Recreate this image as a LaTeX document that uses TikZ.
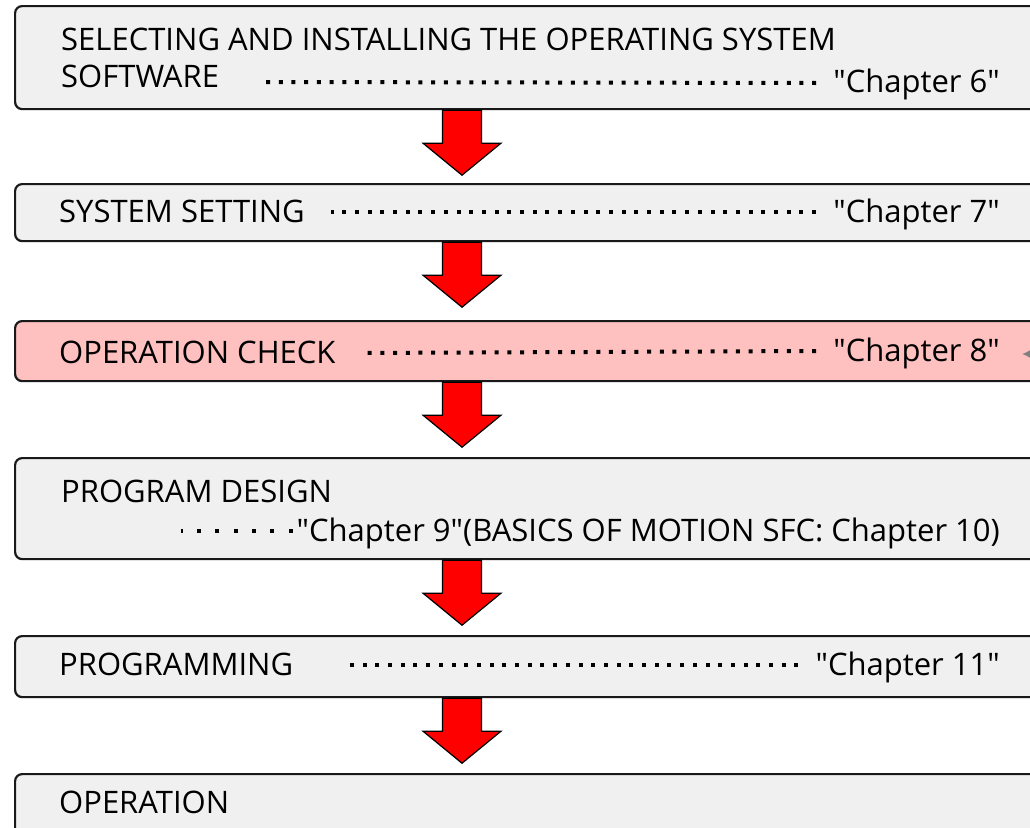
\documentclass[tikz,border=0pt]{standalone}
\usepackage{fontspec}
\setmainfont{Open Sans}[Ligatures=TeXOff]
\usetikzlibrary{calc,arrows.meta}
\definecolor{boxgray}{RGB}{240,240,240}
\definecolor{checkpink}{RGB}{255,192,192}
\newcommand\qt{{\char34}}

\begin{document}
\begin{tikzpicture}[x=1pt,y=-1pt,
  every node/.style={inner sep=0pt,font=\fontsize{31}{38}\selectfont},
  stepbox/.style={draw=black!90,line width=2.2pt,rounded corners=7pt,fill=boxgray,
    minimum width=1060pt,anchor=north west},
  leader/.style={line width=4pt,dash pattern=on 4pt off 8.7pt},
  flowarrow/.style={fill=red,draw=black,line width=1.2pt,line join=miter}]
  \useasboundingbox (0,0) rectangle (1030,827);
  \clip (0,0) rectangle (1030,827);
  \coordinate (ax) at (462,0);

  \node[stepbox,minimum height=103pt] (b1) at (14,5) {};
  \node[stepbox,minimum height=57pt] (b2) at (14,183) {};
  \node[stepbox,minimum height=60pt,fill=checkpink] (b3) at (14,320) {};
  \node[stepbox,minimum height=101pt] (b4) at (14,457) {};
  \node[stepbox,minimum height=61pt] (b5) at (14,635) {};
  \node[stepbox,minimum height=100pt] (b6) at (14,773) {};

  \node[anchor=base west] (l1a) at ($(b1.north west)+(47,45)$) {SELECTING AND INSTALLING THE OPERATING SYSTEM};
  \node[anchor=base west] (l1b) at ($(b1.north west)+(47,82)$) {SOFTWARE};
  \node[anchor=base east] (c1) at ($(b1.north west)+(986,87)$) {\qt Chapter 6\qt};
  \node[anchor=base west] (l2) at ($(b2.north west)+(45,39)$) {SYSTEM SETTING};
  \node[anchor=base east] (c2) at ($(b2.north west)+(986,39)$) {\qt Chapter 7\qt};
  \node[anchor=base west] (l3) at ($(b3.north west)+(45,43)$) {OPERATION CHECK};
  \node[anchor=base east] (c3) at ($(b3.north west)+(986,41)$) {\qt Chapter 8\qt};
  \node[anchor=base west] (l4) at ($(b4.north west)+(47,45)$) {PROGRAM DESIGN};
  \node[anchor=base east] (c4) at ($(b4.north west)+(986,84)$) {\qt Chapter 9\qt(BASICS OF MOTION SFC: Chapter 10)};
  \node[anchor=base west] (l5) at ($(b5.north west)+(45,40)$) {PROGRAMMING};
  \node[anchor=base east] (c5) at ($(b5.north west)+(986,40)$) {\qt Chapter 11\qt};
  \node[anchor=base west] (l6) at ($(b6.north west)+(45,40)$) {OPERATION};

  \draw[leader] ($(c1.base west)+(-17,-9)$) -- ($(l1b.base east)+(40,-5)$);
  \draw[leader] ($(c2.base west)+(-17,-10)$) -- ($(l2.base east)+(26,-10)$);
  \draw[leader] ($(c3.base west)+(-17,-10)$) -- ($(l3.base east)+(24,-10)$);
  \draw[leader,dash pattern=on 4pt off 14.3pt] ($(c4.base west)+(-4,-10)$) -- ++(-112,0);
  \draw[leader] ($(c5.base west)+(-17,-10)$) -- ($(l5.base east)+(50,-10)$);

  \foreach \b in {b1,b2,b3,b4,b5}
    \filldraw[flowarrow] ($(ax |- \b.south)+(-19.5,0)$) -- ++(0,33) -- ++(-19.5,0)
      -- ++(39,32) -- ++(39,-32) -- ++(-19.5,0) -- ++(0,-33) -- cycle;

  \coordinate (g1) at (1045,354);
  \coordinate (g2) at (1022,354);
  \draw[gray,line width=2pt,-{Latex[length=8pt,width=8pt]}] (g1) -- (g2);
\end{tikzpicture}
\end{document}
